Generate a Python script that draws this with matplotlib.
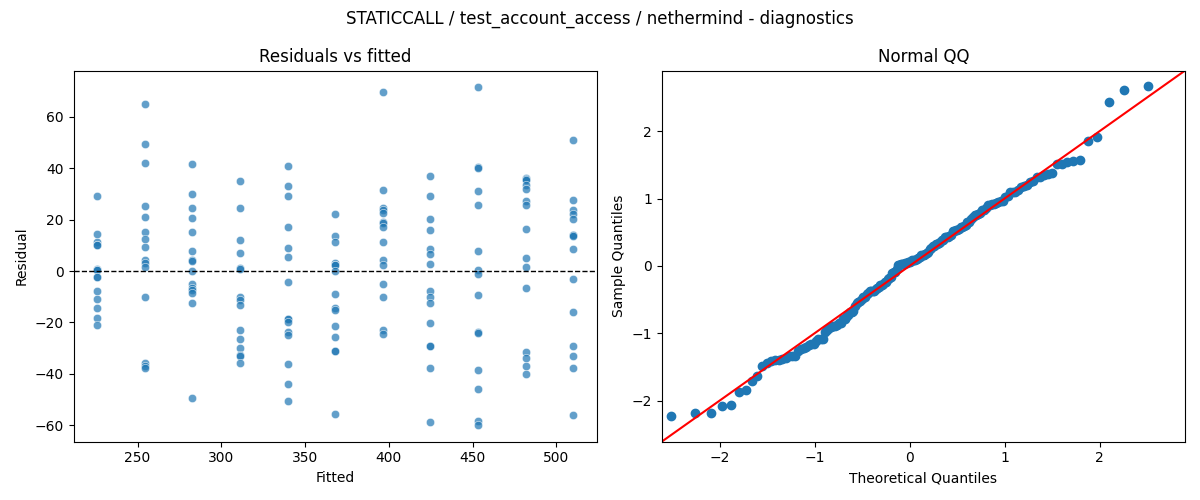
import matplotlib
matplotlib.use("Agg")
import matplotlib.pyplot as plt
import seaborn as sns
import numpy as np
from statistics import NormalDist

# Fitted values (one per group) and residuals
fitted_levels = [226.0, 254.4, 282.8, 311.2, 339.6, 368.0, 396.4, 424.8, 453.2, 481.6, 510.0]

res_g1 = [29.1, 14.4, 11.4, 10.1, 10.1, 0.8, 0.4, 0.4, -2.5, -2.5, -7.8, -11.0, -14.4, -18.3, -21.1]
res_g2 = [64.9, 49.3, 41.9, 25.2, 21.0, 15.4, 12.3, 9.3, 4.3, 3.2, 1.7, -10.2, -35.9, -36.8, -37.8]
res_g3 = [41.6, 29.9, 24.5, 20.6, 15.4, 7.8, 4.4, 4.1, 0.0, -5.2, -6.5, -7.4, -8.4, -12.4, -49.4]
res_g4 = [35.0, 24.5, 11.9, 6.9, 1.2, 0.9, -10.1, -11.3, -13.3, -22.9, -26.4, -29.9, -32.6, -33.0, -35.9]
res_g5 = [41.0, 33.3, 29.4, 17.3, 8.8, 5.3, -4.4, -18.5, -18.5, -19.8, -23.7, -25.0, -36.1, -43.9, -50.5]
res_g6 = [22.1, 13.6, 11.3, 3.0, 2.3, 2.3, 0.0, -8.9, -14.2, -15.1, -21.4, -25.5, -31.1, -31.3, -55.5]
res_g7 = [69.8, 31.5, 24.7, 23.9, 22.8, 19.2, 18.6, 17.1, 11.3, 4.3, 2.3, -5.0, -10.2, -22.9, -24.6]
res_g8 = [36.9, 29.1, 20.2, 15.8, 8.5, 6.5, 2.6, -7.8, -10.0, -12.4, -20.3, -29.1, -29.3, -37.7, -58.8]
res_g9 = [71.5, 40.4, 40.3, 31.1, 25.6, 7.8, 0.4, -1.3, -9.4, -23.9, -24.2, -38.6, -46.0, -58.5, -59.9]
res_g10 = [36.4, 36.0, 35.3, 33.4, 31.8, 27.2, 25.6, 16.2, 4.9, 1.4, -6.7, -31.5, -33.9, -37.0, -40.0]
res_g11 = [50.9, 27.8, 23.9, 22.1, 20.1, 14.2, 14.0, 13.6, 8.4, -3.2, -16.0, -29.3, -33.1, -37.7, -55.9]

groups = [res_g1, res_g2, res_g3, res_g4, res_g5, res_g6, res_g7, res_g8, res_g9, res_g10, res_g11]

fitted = np.concatenate([[f] * len(g) for f, g in zip(fitted_levels, groups)])
resid = np.concatenate(groups)

title = "STATICCALL / test_account_access / nethermind - diagnostics"

fig, (ax1, ax2) = plt.subplots(1, 2, figsize=(12, 5), dpi=100)

sns.scatterplot(x=fitted, y=resid, ax=ax1, alpha=0.7)
ax1.axhline(0, color="black", linestyle="--", linewidth=1)
ax1.set_title("Residuals vs fitted")
ax1.set_xlabel("Fitted")
ax1.set_ylabel("Residual")

# Normal QQ (standardized residuals vs theoretical normal quantiles)
n = len(resid)
z = (resid - resid.mean()) / resid.std()
sample_q = np.sort(z)
nd = NormalDist()
theo_q = np.array([nd.inv_cdf(i / (n + 1)) for i in range(1, n + 1)])
ax2.plot(theo_q, sample_q, "o", color="#1f77b4", markersize=6)
lims = (-2.61, 2.90)
ax2.set_xlim(lims)
ax2.set_ylim(lims)
ax2.plot(lims, lims, color="red")
ax2.set_title("Normal QQ")
ax2.set_xlabel("Theoretical Quantiles")
ax2.set_ylabel("Sample Quantiles")

fig.suptitle(title)
fig.tight_layout()
fig.savefig("out.png")
